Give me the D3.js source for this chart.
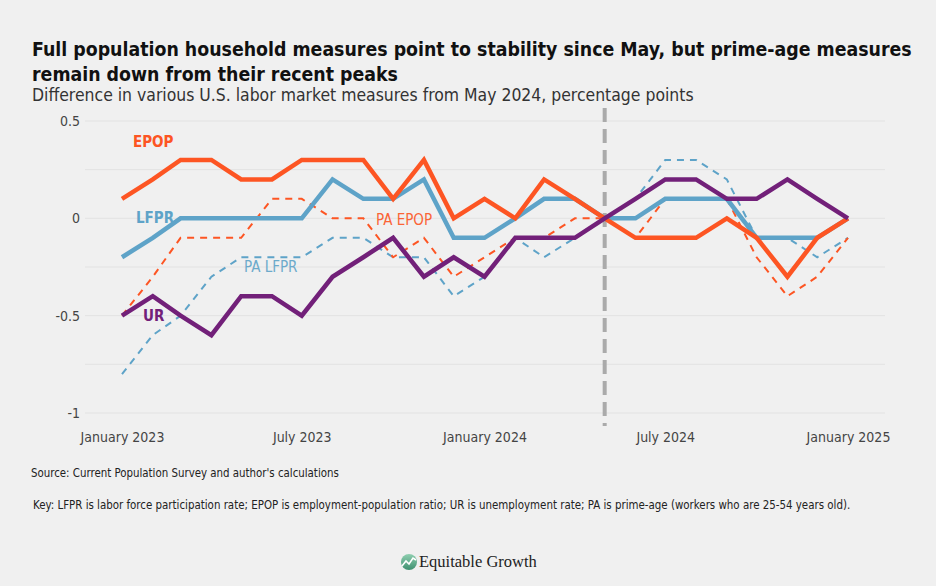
<!DOCTYPE html>
<html><head><meta charset="utf-8">
<script src="https://cdn.jsdelivr.net/npm/d3@7"></script>
<style>
html,body{margin:0;padding:0;background:#f0f0f0;}
svg{display:block;}
text{font-family:"DejaVu Sans Condensed","DejaVu Sans",sans-serif;font-stretch:condensed;}
text.serif{font-family:"Liberation Serif","DejaVu Serif",serif;font-stretch:normal;}
</style></head>
<body>
<svg id="c" width="936" height="586"></svg>
<script>
const months = ["2023-01","2023-02","2023-03","2023-04","2023-05","2023-06","2023-07","2023-08","2023-09","2023-10","2023-11","2023-12",
"2024-01","2024-02","2024-03","2024-04","2024-05","2024-06","2024-07","2024-08","2024-09","2024-10","2024-11","2024-12","2025-01"];
const epop   = [0.1,0.2,0.3,0.3,0.2,0.2,0.3,0.3,0.3,0.1,0.3,0.0, 0.1,0.0,0.2,0.1,0.0,-0.1,-0.1,-0.1,0.0,-0.1,-0.3,-0.1,0.0];
const lfpr   = [-0.2,-0.1,0,0,0,0,0,0.2,0.1,0.1,0.2,-0.1, -0.1,0.0,0.1,0.1,0.0,0.0,0.1,0.1,0.1,-0.1,-0.1,-0.1,0.0];
const ur     = [-0.5,-0.4,-0.5,-0.6,-0.4,-0.4,-0.5,-0.3,-0.2,-0.1,-0.3,-0.2, -0.3,-0.1,-0.1,-0.1,0.0,0.1,0.2,0.2,0.1,0.1,0.2,0.1,0.0];
const paEpop = [-0.5,-0.3,-0.1,-0.1,-0.1,0.1,0.1,0.0,0.0,-0.2,-0.1,-0.3, -0.2,-0.1,-0.1,0.0,0.0,-0.1,0.1,0.1,0.1,-0.2,-0.4,-0.3,-0.1];
const paLfpr = [-0.8,-0.6,-0.5,-0.3,-0.2,-0.2,-0.2,-0.1,-0.1,-0.2,-0.2,-0.4, -0.3,-0.1,-0.2,-0.1,0.0,0.1,0.3,0.3,0.2,-0.1,-0.1,-0.2,-0.1];
const yTicks = [0.5,0,-0.5,-1];
const yTickLabels = ["0.5","0","-0.5","-1"];
const yGrid = [0.5,0.25,0,-0.25,-0.5,-0.75,-1];
const xTicks = ["2023-01","2023-07","2024-01","2024-07","2025-01"];
const xTickLabels = ["January 2023","July 2023","January 2024","July 2024","January 2025"];
const refMonth = "2024-05";

const title1 = "Full population household measures point to stability since May, but prime-age measures";
const title2 = "remain down from their recent peaks";
const subtitle = "Difference in various U.S. labor market measures from May 2024, percentage points";
const source = "Source: Current Population Survey and author's calculations";
const keyText = "Key: LFPR is labor force participation rate; EPOP is employment-population ratio; UR is unemployment rate; PA is prime-age (workers who are 25-54 years old).";

const parse = d3.timeParse("%Y-%m");
const dates = months.map(parse);
const svg = d3.select("#c");
const C = {orange:"#fd5523", blue:"#5ea3c8", purple:"#722079", grid:"#e2e2e2", text:"#333"};

const x = d3.scaleTime().domain([parse("2023-01"), parse("2025-01")]).range([122, 848]);
const y = d3.scaleLinear().domain([-1, 0.5]).range([413, 121]);

function fit(t, w){ const n=t.node(); let fs=parseFloat(t.attr("font-size")); const L=n.getComputedTextLength(); t.attr("font-size", fs*w/L); }

// titles
const t1 = svg.append("text").attr("x",32).attr("y",56).attr("font-size",22).attr("font-weight","bold").attr("fill","#111").text(title1);
fit(t1, 880);
const t2 = svg.append("text").attr("x",32).attr("y",81).attr("font-size",t1.attr("font-size")).attr("font-weight","bold").attr("fill","#111").text(title2);
const st = svg.append("text").attr("x",32).attr("y",101).attr("font-size",18).attr("fill","#333").text(subtitle);
fit(st, 662);

// grid
svg.append("g").selectAll("line").data(yGrid).join("line")
  .attr("x1",85).attr("x2",885).attr("y1",d=>y(d)).attr("y2",d=>y(d))
  .attr("stroke",C.grid).attr("stroke-width",1);

// y axis
const yAxis = d3.axisLeft(y).tickValues(yTicks).tickFormat((d,i)=>yTickLabels[i]).tickSize(0).tickPadding(0);
const ga = svg.append("g").attr("transform","translate(80,0)").call(yAxis);
ga.select(".domain").remove();
ga.selectAll("text").attr("font-size",14).attr("fill","#444").attr("font-family",null);

// x axis
const xAxis = d3.axisBottom(x).tickValues(xTicks.map(parse)).tickFormat((d,i)=>xTickLabels[i]).tickSize(0).tickPadding(0);
const gx = svg.append("g").attr("transform","translate(0,432)").call(xAxis);
gx.select(".domain").remove();
gx.selectAll("text").attr("font-size",14).attr("fill","#444").attr("font-family",null);

// reference line
svg.append("line").attr("x1",x(parse(refMonth))).attr("x2",x(parse(refMonth)))
  .attr("y1",108).attr("y2",426).attr("stroke","#aaaaaa").attr("stroke-width",4).attr("stroke-dasharray","14,7");

const line = d3.line().x((d,i)=>x(dates[i])).y(d=>y(d));
function draw(vals, color, w, dash){
  svg.append("path").attr("d",line(vals)).attr("fill","none").attr("stroke",color)
   .attr("stroke-width",w).attr("stroke-linejoin","miter").attr("stroke-dasharray",dash||null);
}
draw(paLfpr, C.blue, 2, "7,6");
draw(paEpop, C.orange, 2, "7,6");
draw(lfpr, C.blue, 4.5);
draw(epop, C.orange, 4.5);
draw(ur, C.purple, 4.5);

// labels
const lab = [
  {t:"EPOP", x:133, y:147, c:C.orange, b:true},
  {t:"LFPR", x:136, y:223, c:C.blue, b:true},
  {t:"UR", x:143, y:321, c:C.purple, b:true},
  {t:"PA LFPR", x:244, y:272, c:C.blue, b:false},
  {t:"PA EPOP", x:376, y:225, c:C.orange, b:false}
];
svg.append("g").selectAll("text").data(lab).join("text")
  .attr("x",d=>d.x).attr("y",d=>d.y).attr("fill",d=>d.c).attr("font-size",15)
  .attr("font-weight",d=>d.b?"bold":"normal").attr("opacity",d=>d.b?1:0.9).text(d=>d.t);

// footer
const s = svg.append("text").attr("x",31).attr("y",477).attr("font-size",12).attr("fill","#222").text(source);
fit(s, 308);
const k = svg.append("text").attr("x",33).attr("y",509).attr("font-size",12).attr("fill","#222").text(keyText);
fit(k, 818);

// logo
const grad = svg.append("defs").append("linearGradient").attr("id","lg").attr("x1",0).attr("y1",0).attr("x2",0).attr("y2",1);
grad.append("stop").attr("offset",0).attr("stop-color","#8fcfb0");
grad.append("stop").attr("offset",1).attr("stop-color","#3f9070");
const lg = svg.append("g").attr("transform","translate(409,562)");
lg.append("circle").attr("cx",0).attr("cy",0).attr("r",8).attr("fill","url(#lg)");
lg.append("path").attr("d","M-7,4 L-3,-1 L0,2 L4,-4 L7,-2").attr("fill","none").attr("stroke","#fff").attr("stroke-width",1.6);
const lt = lg.append("text").attr("class","serif").attr("x",10).attr("y",5).attr("font-size",17).attr("fill","#222").text("Equitable Growth");
fit(lt, 118);
</script>
</body></html>
